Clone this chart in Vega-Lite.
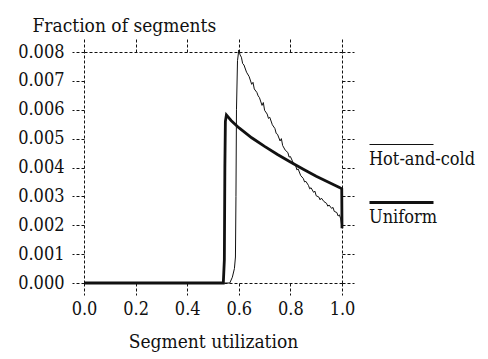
{
  "$schema": "https://vega.github.io/schema/vega-lite/v6.json",
  "autosize": {"type": "none"},
  "padding": {"left": 84, "top": 52, "right": 146, "bottom": 76},
  "width": 258,
  "height": 231,
  "background": "white",
  "config": {
    "view": {"stroke": null},
    "axis": {
      "labelFont": "DejaVu Serif Condensed", "labelFontSize": 18, "labelColor": "#111",
      "titleFont": "DejaVu Serif Condensed", "titleFontSize": 19, "titleFontWeight": "normal", "titleColor": "#111",
      "domainColor": "#111", "tickColor": "#111", "domainDash": [3, 2], "tickDash": [3, 2],
      "domainWidth": 1, "tickWidth": 1, "grid": false, "tickSize": 12, "labelFlush": false
    },
    "legend": {
      "labelFont": "DejaVu Serif Condensed", "labelFontSize": 18, "labelColor": "#111"
    }
  },
  "data": {"values": [
    {"series": "Hot-and-cold", "u": 0.0, "f": 0.0},
    {"series": "Hot-and-cold", "u": 0.565, "f": 0.0},
    {"series": "Hot-and-cold", "u": 0.575, "f": 0.0002},
    {"series": "Hot-and-cold", "u": 0.583, "f": 0.0005},
    {"series": "Hot-and-cold", "u": 0.587, "f": 0.0009},
    {"series": "Hot-and-cold", "u": 0.589, "f": 0.003},
    {"series": "Hot-and-cold", "u": 0.591, "f": 0.006},
    {"series": "Hot-and-cold", "u": 0.595, "f": 0.0077},
    {"series": "Hot-and-cold", "u": 0.600, "f": 0.00807},
    {"series": "Hot-and-cold", "u": 0.605, "f": 0.0079},
    {"series": "Hot-and-cold", "u": 0.610, "f": 0.00782},
    {"series": "Hot-and-cold", "u": 0.615, "f": 0.0076},
    {"series": "Hot-and-cold", "u": 0.620, "f": 0.00755},
    {"series": "Hot-and-cold", "u": 0.630, "f": 0.0073},
    {"series": "Hot-and-cold", "u": 0.640, "f": 0.00715},
    {"series": "Hot-and-cold", "u": 0.650, "f": 0.00688},
    {"series": "Hot-and-cold", "u": 0.655, "f": 0.00695},
    {"series": "Hot-and-cold", "u": 0.660, "f": 0.00672},
    {"series": "Hot-and-cold", "u": 0.670, "f": 0.0066},
    {"series": "Hot-and-cold", "u": 0.675, "f": 0.00648},
    {"series": "Hot-and-cold", "u": 0.680, "f": 0.00642},
    {"series": "Hot-and-cold", "u": 0.690, "f": 0.00615},
    {"series": "Hot-and-cold", "u": 0.695, "f": 0.00625},
    {"series": "Hot-and-cold", "u": 0.700, "f": 0.00598},
    {"series": "Hot-and-cold", "u": 0.710, "f": 0.00585},
    {"series": "Hot-and-cold", "u": 0.715, "f": 0.0057},
    {"series": "Hot-and-cold", "u": 0.720, "f": 0.00574},
    {"series": "Hot-and-cold", "u": 0.730, "f": 0.00548},
    {"series": "Hot-and-cold", "u": 0.740, "f": 0.00535},
    {"series": "Hot-and-cold", "u": 0.745, "f": 0.00518},
    {"series": "Hot-and-cold", "u": 0.750, "f": 0.00515},
    {"series": "Hot-and-cold", "u": 0.760, "f": 0.00492},
    {"series": "Hot-and-cold", "u": 0.765, "f": 0.005},
    {"series": "Hot-and-cold", "u": 0.770, "f": 0.00476},
    {"series": "Hot-and-cold", "u": 0.780, "f": 0.0046},
    {"series": "Hot-and-cold", "u": 0.790, "f": 0.00452},
    {"series": "Hot-and-cold", "u": 0.795, "f": 0.00436},
    {"series": "Hot-and-cold", "u": 0.800, "f": 0.00438},
    {"series": "Hot-and-cold", "u": 0.810, "f": 0.00418},
    {"series": "Hot-and-cold", "u": 0.820, "f": 0.00408},
    {"series": "Hot-and-cold", "u": 0.825, "f": 0.00392},
    {"series": "Hot-and-cold", "u": 0.830, "f": 0.00395},
    {"series": "Hot-and-cold", "u": 0.840, "f": 0.00372},
    {"series": "Hot-and-cold", "u": 0.850, "f": 0.00362},
    {"series": "Hot-and-cold", "u": 0.855, "f": 0.0035},
    {"series": "Hot-and-cold", "u": 0.860, "f": 0.00352},
    {"series": "Hot-and-cold", "u": 0.870, "f": 0.00338},
    {"series": "Hot-and-cold", "u": 0.875, "f": 0.00326},
    {"series": "Hot-and-cold", "u": 0.880, "f": 0.0033},
    {"series": "Hot-and-cold", "u": 0.890, "f": 0.00314},
    {"series": "Hot-and-cold", "u": 0.895, "f": 0.00318},
    {"series": "Hot-and-cold", "u": 0.900, "f": 0.00302},
    {"series": "Hot-and-cold", "u": 0.910, "f": 0.00298},
    {"series": "Hot-and-cold", "u": 0.915, "f": 0.00288},
    {"series": "Hot-and-cold", "u": 0.920, "f": 0.00294},
    {"series": "Hot-and-cold", "u": 0.930, "f": 0.00282},
    {"series": "Hot-and-cold", "u": 0.940, "f": 0.00276},
    {"series": "Hot-and-cold", "u": 0.945, "f": 0.00266},
    {"series": "Hot-and-cold", "u": 0.950, "f": 0.0027},
    {"series": "Hot-and-cold", "u": 0.960, "f": 0.00258},
    {"series": "Hot-and-cold", "u": 0.965, "f": 0.00262},
    {"series": "Hot-and-cold", "u": 0.970, "f": 0.00248},
    {"series": "Hot-and-cold", "u": 0.980, "f": 0.00244},
    {"series": "Hot-and-cold", "u": 0.985, "f": 0.00232},
    {"series": "Hot-and-cold", "u": 0.990, "f": 0.00236},
    {"series": "Hot-and-cold", "u": 0.995, "f": 0.00222},
    {"series": "Hot-and-cold", "u": 1.000, "f": 0.0019},
    {"series": "Uniform", "u": 0.0, "f": 0.0},
    {"series": "Uniform", "u": 0.540, "f": 0.0},
    {"series": "Uniform", "u": 0.544, "f": 0.0008},
    {"series": "Uniform", "u": 0.546, "f": 0.004},
    {"series": "Uniform", "u": 0.548, "f": 0.0056},
    {"series": "Uniform", "u": 0.552, "f": 0.00582},
    {"series": "Uniform", "u": 0.570, "f": 0.00563},
    {"series": "Uniform", "u": 0.600, "f": 0.00538},
    {"series": "Uniform", "u": 0.650, "f": 0.00503},
    {"series": "Uniform", "u": 0.700, "f": 0.00473},
    {"series": "Uniform", "u": 0.750, "f": 0.00445},
    {"series": "Uniform", "u": 0.800, "f": 0.00419},
    {"series": "Uniform", "u": 0.850, "f": 0.00394},
    {"series": "Uniform", "u": 0.900, "f": 0.00370},
    {"series": "Uniform", "u": 0.950, "f": 0.00348},
    {"series": "Uniform", "u": 0.990, "f": 0.00331},
    {"series": "Uniform", "u": 0.999, "f": 0.00326},
    {"series": "Uniform", "u": 1.000, "f": 0.0019}
  ]},
  "layer": [
    {
      "transform": [{"filter": "datum.series == 'Hot-and-cold'"}],
      "mark": {"type": "line", "color": "#111", "interpolate": "linear"},
      "encoding": {
        "x": {"field": "u", "type": "quantitative", "scale": {"domain": [0, 1], "nice": false},
              "axis": {"orient": "bottom", "values": [0, 0.2, 0.4, 0.6, 0.8, 1.0], "format": ".1f",
                       "title": "Segment utilization", "labelPadding": 5, "titlePadding": 14}},
        "y": {"field": "f", "type": "quantitative", "scale": {"domain": [0, 0.008], "nice": false, "zero": true},
              "axis": {"orient": "left", "values": [0, 0.001, 0.002, 0.003, 0.004, 0.005, 0.006, 0.007, 0.008],
                       "format": ".3f", "labelPadding": 8, "title": "Fraction of segments",
                       "titleAngle": 0, "titleAlign": "left", "titleBaseline": "alphabetic",
                       "titleX": -52, "titleY": -21}},
        "strokeWidth": {"field": "series", "type": "ordinal",
                        "scale": {"domain": ["Hot-and-cold", "Uniform"], "range": [1, 2.8]},
                        "legend": {"orient": "none", "legendX": 284, "legendY": 60, "title": null,
                                   "symbolType": "stroke", "symbolSize": 4096, "symbolStrokeColor": "#111",
                                   "labelOffset": -66, "padding": 0, "rowPadding": -3,
                                   "encode": {"labels": {"update": {"dy": {"value": 15}}}}}}
      }
    },
    {
      "transform": [{"filter": "datum.series == 'Uniform'"}],
      "mark": {"type": "line", "color": "#111", "interpolate": "linear"},
      "encoding": {
        "x": {"field": "u", "type": "quantitative",
              "axis": {"orient": "top", "values": [0, 0.2, 0.4, 0.6, 0.8, 1.0], "labels": false, "title": null, "tickSize": 15}},
        "y": {"field": "f", "type": "quantitative",
              "axis": {"orient": "right", "values": [0, 0.001, 0.002, 0.003, 0.004, 0.005, 0.006, 0.007, 0.008],
                       "labels": false, "title": null}},
        "strokeWidth": {"field": "series", "type": "ordinal"}
      }
    }
  ],
  "resolve": {"axis": {"x": "independent", "y": "independent"}}
}
